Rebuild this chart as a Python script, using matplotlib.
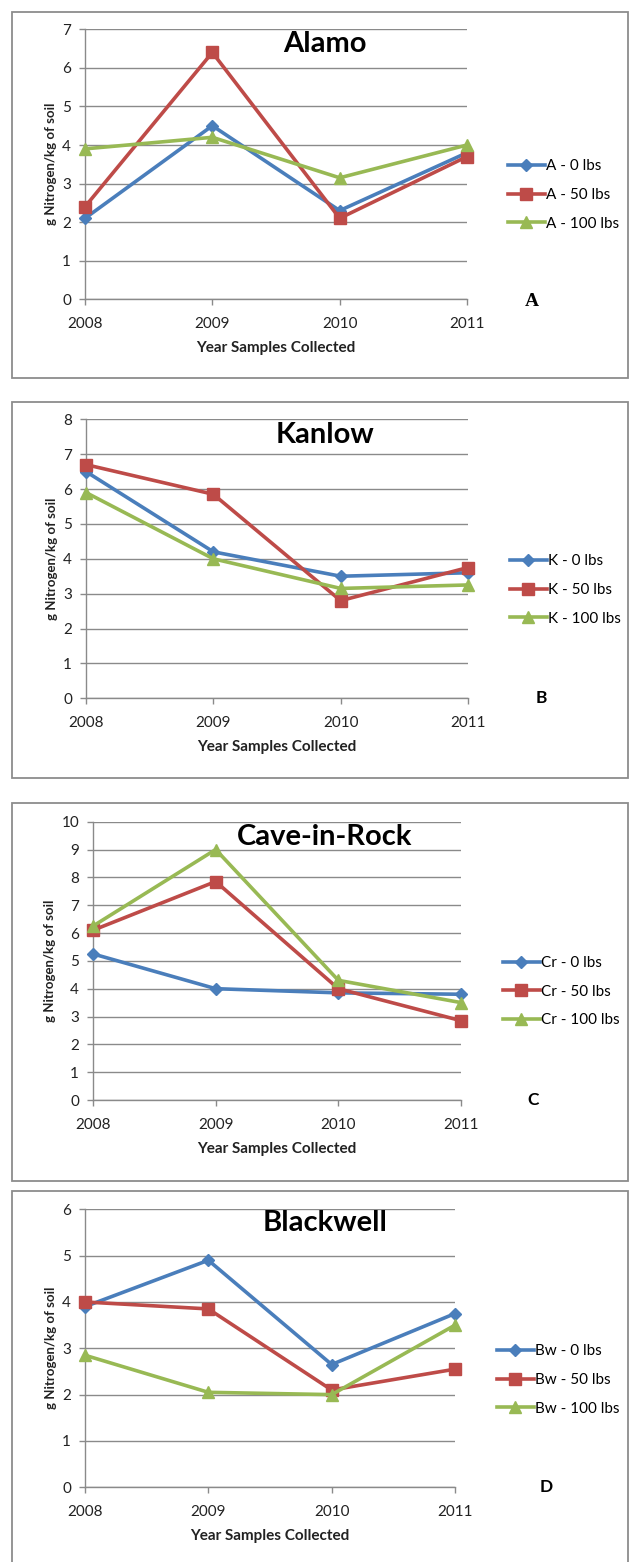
import matplotlib
matplotlib.use("Agg")
import matplotlib.pyplot as plt
from matplotlib.patches import Rectangle

plt.rcParams['font.family'] = ['Lato', 'DejaVu Sans']

years = ['2008', '2009', '2010', '2011']
doses = ['0 lbs', '50 lbs', '100 lbs']

titles = ['Alamo', 'Kanlow', 'Cave-in-Rock', 'Blackwell']
prefixes = ['A', 'K', 'Cr', 'Bw']
letters = ['A', 'B', 'C', 'D']
ymaxes = [7, 8, 10, 6]

alamo_0 = [2.1, 4.5, 2.3, 3.8]
alamo_50 = [2.4, 6.4, 2.1, 3.7]
alamo_100 = [3.9, 4.2, 3.15, 4.0]

kanlow_0 = [6.5, 4.2, 3.5, 3.6]
kanlow_50 = [6.7, 5.85, 2.8, 3.75]
kanlow_100 = [5.9, 4.0, 3.15, 3.25]

cir_0 = [5.25, 4.0, 3.85, 3.8]
cir_50 = [6.1, 7.85, 4.0, 2.85]
cir_100 = [6.25, 9.0, 4.3, 3.5]

bw_0 = [3.9, 4.9, 2.65, 3.75]
bw_50 = [4.0, 3.85, 2.1, 2.55]
bw_100 = [2.85, 2.05, 2.0, 3.5]

series = [
    [alamo_0, alamo_50, alamo_100],
    [kanlow_0, kanlow_50, kanlow_100],
    [cir_0, cir_50, cir_100],
    [bw_0, bw_50, bw_100],
]

colors = ['#4A7EBB', '#BE4B48', '#98B954']
markers = ['D', 's', '^']
msizes = [6.5, 9, 9]

W, H = 630, 1562

# pixel layout for each panel: (x0, x1, y_top, y_bottom) of the plot area,
# box (top, bottom), legend (x, y centre), letter (x, y), title centre y
plot_px = [(85, 467, 29.3, 299.3), (86, 468, 419.3, 698.3),
           (93, 461, 821.7, 1100), (85, 455, 1209.3, 1487.3)]
box_px = [(12, 378), (401.7, 778), (802.7, 1181), (1190.7, 1575)]
legend_px = [(508, 195), (510, 590), (503, 991.7), (497, 1380)]
letter_px = [(532, 301), (541, 698), (533, 1100), (546, 1487)]
title_py = [44, 435, 837, 1223]

fig = plt.figure(figsize=(W / 100, H / 100), dpi=100)


def fx(px):
    return px / W


def fy(py):
    return 1 - py / H


for i in range(4):
    top, bot = box_px[i]
    fig.patches.append(Rectangle((fx(12), fy(bot)), fx(628) - fx(12), fy(top) - fy(bot),
                                 transform=fig.transFigure, fill=False,
                                 edgecolor='#8c8c8c', linewidth=1.3))

    x0, x1, yt, yb = plot_px[i]
    ax = fig.add_axes([fx(x0), fy(yb), fx(x1) - fx(x0), fy(yt) - fy(yb)])
    x = list(range(len(years)))
    for j in range(3):
        ax.plot(x, series[i][j], color=colors[j], linewidth=2.6, marker=markers[j],
                markersize=msizes[j], label=prefixes[i] + ' - ' + doses[j], zorder=3,
                clip_on=False)

    ax.set_xlim(0, 3)
    ax.set_ylim(0, ymaxes[i])
    ax.set_xticks(x)
    ax.set_xticklabels(years)
    ax.set_yticks(range(ymaxes[i] + 1))
    ax.grid(axis='y', color='#8a8a8a', linewidth=1.0)
    ax.set_axisbelow(True)
    for s in ['top', 'right']:
        ax.spines[s].set_visible(False)
    for s in ['left', 'bottom']:
        ax.spines[s].set_color('#8a8a8a')
        ax.spines[s].set_linewidth(1.0)
    ax.tick_params(axis='both', colors='#8a8a8a', length=4, width=1.0,
                   labelcolor='#222222', labelsize=11, pad=6)
    ax.tick_params(axis='x', pad=9)

    fig.text(fx(325), fy(title_py[i]), titles[i], fontsize=21, fontweight='bold',
             ha='center', va='center')
    ax.set_xlabel('Year Samples Collected', fontsize=11, fontweight='bold',
                  labelpad=7, color='#222222')
    ax.set_ylabel('g Nitrogen/kg of soil', fontsize=9.5, fontweight='bold',
                  labelpad=4, color='#222222')

    lx, ly = legend_px[i]
    fig.legend(handles=ax.get_lines(), loc='center left',
               bbox_to_anchor=(fx(lx), fy(ly)), frameon=False, fontsize=11,
               handlelength=2.4, handletextpad=0.1, labelspacing=0.95,
               borderpad=0, borderaxespad=0, markerscale=1.0)

    tx, ty = letter_px[i]
    if i == 0:
        fig.text(fx(tx), fy(ty), letters[i], family='Liberation Serif',
                 fontweight='bold', fontsize=14, ha='center', va='center')
    else:
        fig.text(fx(tx), fy(ty), letters[i], fontweight='bold', fontsize=12.5,
                 ha='center', va='center')

fig.savefig('out.png', dpi=100)
